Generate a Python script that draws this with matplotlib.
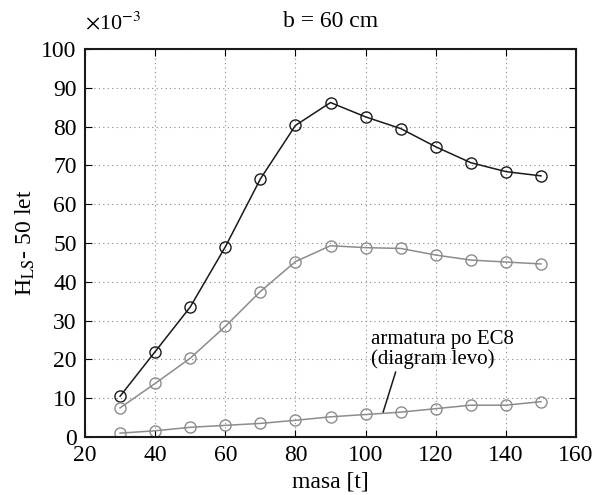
import matplotlib
matplotlib.use('Agg')
import matplotlib.pyplot as plt

plt.rcParams['font.family'] = ['Liberation Serif', 'DejaVu Serif']
plt.rcParams['mathtext.fontset'] = 'stix'

masa = [30, 40, 50, 60, 70, 80, 90, 100, 110, 120, 130, 140, 150]
h_black = [10.5, 22.0, 33.5, 49.0, 66.5, 80.3, 86.2, 82.5, 79.5, 74.8, 70.7, 68.4, 67.3]
h_gray = [7.5, 13.8, 20.3, 28.5, 37.5, 45.2, 49.3, 48.8, 48.6, 46.9, 45.6, 45.1, 44.6]
h_ec8 = [1.0, 1.6, 2.5, 3.0, 3.5, 4.3, 5.2, 5.8, 6.4, 7.3, 8.2, 8.2, 9.1]

fig = plt.figure(figsize=(5.97, 4.95), dpi=100)
ax = fig.add_axes([85 / 597, 1 - 437 / 495, 491 / 597, 388 / 495])

mk = dict(marker='o', markersize=8, markerfacecolor='none', linewidth=1.1)
ax.plot(masa, h_black, color='#1a1a1a', markeredgecolor='#1a1a1a', **mk)
ax.plot(masa, h_gray, color='#8c8c8c', markeredgecolor='#8c8c8c', **mk)
ax.plot(masa, h_ec8, color='#8c8c8c', markeredgecolor='#8c8c8c', **mk)

ax.set_xlim(20, 160)
ax.set_ylim(0, 100)
ax.set_xticks(range(20, 161, 20))
ax.set_yticks(range(0, 101, 10))
ax.grid(True, linestyle=(0, (1, 3)), color='#888888', linewidth=0.8)
ax.tick_params(direction='in', labelsize=17, top=True, right=True, length=5, pad=6)
for s in ax.spines.values():
    s.set_linewidth(1.5)
    s.set_color('#1a1a1a')

ax.set_xlabel('masa [t]', fontsize=17, labelpad=4)
ax.set_ylabel(r'H$_{\mathrm{LS}}$- 50 let', fontsize=17, labelpad=3)
ax.set_title('b = 60 cm', fontsize=17, pad=16)
fig.text(85 / 597, 1 - 23 / 495, r'$\times$10$^{-3}$', fontsize=16, ha='left', va='center')

ax.annotate('armatura po EC8\n(diagram levo)', xy=(105, 6.4), xytext=(101.5, 17.5),
            fontsize=15, ha='left', va='bottom', linespacing=1.0,
            arrowprops=dict(arrowstyle='-', color='#1a1a1a', lw=1.1, shrinkA=0, shrinkB=0,
                            relpos=(0.18, 0.0)))

fig.savefig('out.png', dpi=100)
